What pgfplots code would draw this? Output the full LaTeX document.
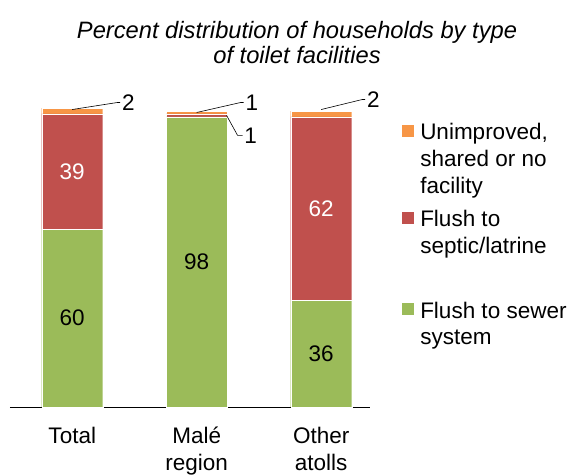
\documentclass[border=0pt]{standalone}
\usepackage{pgfplots}
\pgfplotsset{compat=1.18}
\usepackage{fontspec}
\setmainfont{Liberation Sans}
\definecolor{cgreen}{HTML}{9BBB59}
\definecolor{cred}{HTML}{C0504D}
\definecolor{corange}{HTML}{F79646}
\newcommand{\lf}{\fontsize{22.5}{27}\selectfont}
\newcommand{\rs}[1]{\rule[-#1]{0pt}{19pt}}
\pgfplotsset{myframe/.style={
  at={(10pt,68pt)}, anchor=south west,
  scale only axis, width=360pt, height=325.6pt,
  xmin=-0.5, xmax=2.392, ymin=0, ymax=110, clip=false}}
\begin{document}
\begin{tikzpicture}[x=1pt,y=1pt]
\useasboundingbox (0,0) rectangle (577,475);
\node[font=\fontsize{23.7}{25}\selectfont\itshape, align=center, anchor=center] at (297,432) {Percent distribution of households by type\\of toilet facilities};
\begin{axis}[
  myframe,
  ybar stacked, bar width=61pt,
  axis x line*=bottom, axis y line=none,
  x axis line style={black, line width=0.8pt, -},
  xtick={0,1,2}, xticklabels={Total, Malé\\region, Other\\atolls},
  xtick style={draw=none},
  xticklabel style={font=\fontsize{22.5}{27}\selectfont, align=center, anchor=north, yshift=-16.5pt},
]
\addplot[fill=cgreen, draw=white, line width=0.4pt] coordinates {(0,60) (1,98) (2,36)};
\addplot[fill=cred, draw=white, line width=0.4pt] coordinates {(0,39) (1,1) (2,62)};
\addplot[fill=corange, draw=white, line width=0.4pt] coordinates {(0,2) (1,1) (2,2)};
\end{axis}
\begin{axis}[
  myframe, hide axis,
  legend style={draw=none, fill=none, at={(1.089,0.872)}, anchor=north west,
    font=\lf, inner sep=0pt, row sep=0pt, column sep=6pt,
    nodes={inner sep=0pt, text depth={}},
    cells={anchor=base west}},
  legend image code/.code={\fill[#1] (0pt,3pt) rectangle (12pt,15pt);},
]
\addlegendimage{fill=corange, draw=none}
\addlegendentry{\rs{10.5pt}Unimproved,}
\addlegendimage{empty legend}
\addlegendentry{\rs{11pt}shared or no}
\addlegendimage{empty legend}
\addlegendentry{\rs{17pt}facility}
\addlegendimage{fill=cred, draw=none}
\addlegendentry{\rs{10.5pt}Flush to}
\addlegendimage{empty legend}
\addlegendentry{\rs{48pt}septic/latrine}
\addlegendimage{fill=cgreen, draw=none}
\addlegendentry{\rs{12pt}Flush to sewer}
\addlegendimage{empty legend}
\addlegendentry{\rs{10.5pt}system}
% inner labels
\path (axis cs:0,30) node[font=\lf, text=black] {60};
\path (axis cs:0,79.5) node[font=\lf, text=white] {39};
\path (axis cs:1,49) node[font=\lf, text=black] {98};
\path (axis cs:2,18) node[font=\lf, text=black] {36};
\path (axis cs:2,67) node[font=\lf, text=white] {62};
% leader labels
\draw[black, line width=0.6pt] (axis cs:0,100.5) -- ++(45pt,7pt) -- ++(3pt,0pt) node[anchor=west, inner sep=1.5pt, font=\lf]{2};
\draw[black, line width=0.6pt] (axis cs:1,99.5) -- ++(44pt,10pt) -- ++(3pt,0pt) node[anchor=west, inner sep=1.5pt, font=\lf]{1};
\draw[black, line width=0.6pt] (axis cs:1.24,98.5) -- ++(11pt,-20pt) -- ++(5pt,0pt) node[anchor=west, inner sep=1.5pt, font=\lf]{1};
\draw[black, line width=0.6pt] (axis cs:2,100.5) -- ++(41pt,10pt) -- ++(3pt,0pt) node[anchor=west, inner sep=1.5pt, font=\lf]{2};
\end{axis}
\end{tikzpicture}
\end{document}
